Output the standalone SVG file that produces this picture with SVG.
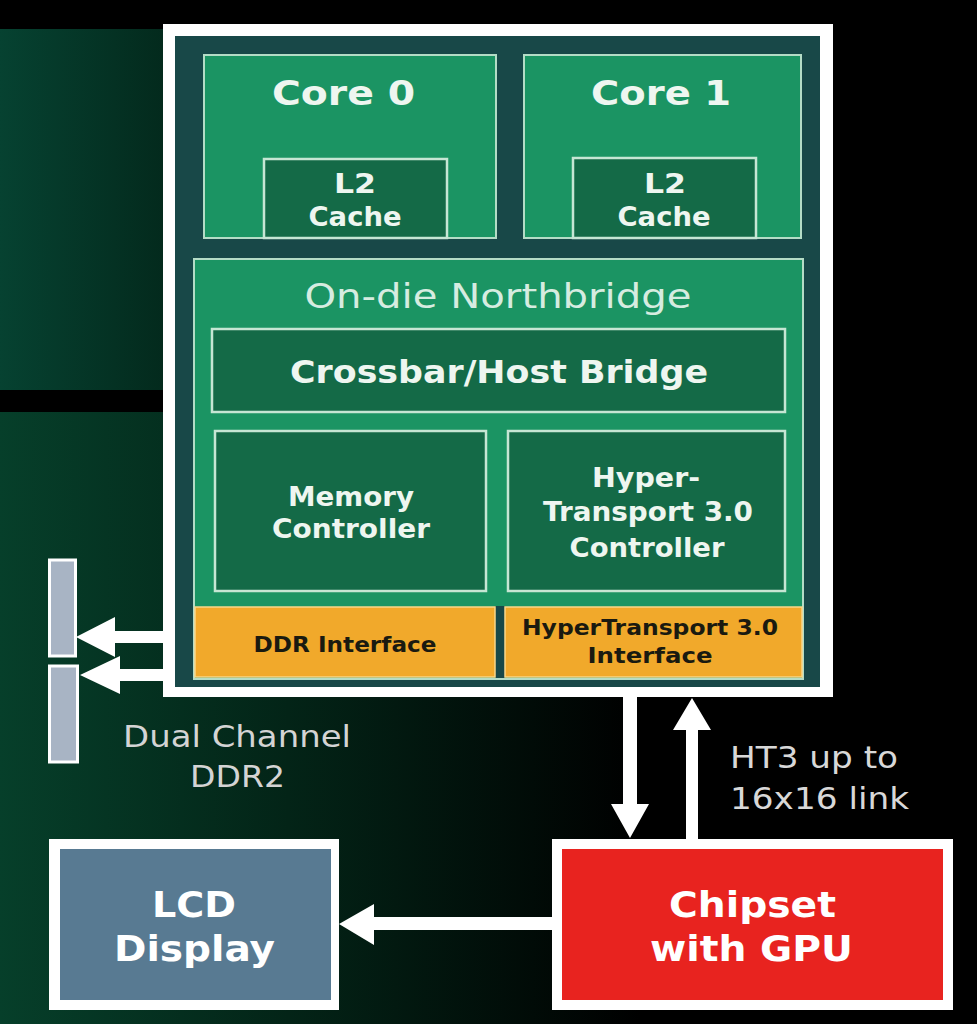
<svg xmlns="http://www.w3.org/2000/svg" width="977" height="1024" viewBox="0 0 977 1024">
  <defs>
    <linearGradient id="bgTop" x1="0" y1="0" x2="1" y2="0">
      <stop offset="0" stop-color="#064231"/>
      <stop offset="1" stop-color="#03291c"/>
    </linearGradient>
    <linearGradient id="bgBottom" gradientUnits="userSpaceOnUse" x1="0" y1="0" x2="640" y2="0">
      <stop offset="0" stop-color="#063f2a"/>
      <stop offset="0.45" stop-color="#032417"/>
      <stop offset="1" stop-color="#000000"/>
    </linearGradient>
    <style>
      .lbl { font-family: "DejaVu Sans", Verdana, sans-serif; font-weight: bold; fill: #eef6f0; text-anchor: middle; }
      .thin { font-family: "DejaVu Sans", Verdana, sans-serif; font-weight: normal; }
      .dark { font-family: "DejaVu Sans", Verdana, sans-serif; font-weight: bold; fill: #1a1a10; text-anchor: middle; }
      .core { fill: #1b9463; stroke: #b4dcc6; stroke-width: 2; }
      .block { fill: #146a47; stroke: #c6e6d4; stroke-width: 2.5; }
      .iface { fill: #f1a92b; stroke: #f9d68a; stroke-width: 1.5; }
      .arrow { fill: #ffffff; }
    </style>
  </defs>

  <!-- background -->
  <rect x="0" y="0" width="977" height="1024" fill="#000000"/>
  <rect x="0" y="29" width="170" height="361" fill="url(#bgTop)"/>
  <rect x="0" y="412" width="977" height="612" fill="url(#bgBottom)"/>

  <!-- connectors -->
  <g id="connectors">
    <polygon class="arrow" points="76,637 115,617 115,631 166,631 166,643 115,643 115,657"/>
    <polygon class="arrow" points="80,675 120,656 120,669 166,669 166,681 120,681 120,694"/>
    <polygon class="arrow" points="623,694 637,694 637,804 649,804 630,838 611,804 623,804"/>
    <polygon class="arrow" points="692,698 711,730 698,730 698,842 686,842 686,730 673,730"/>
    <polygon class="arrow" points="339,924 374,904 374,917 555,917 555,930 374,930 374,945"/>
  </g>

  <!-- processor die -->
  <g id="die">
    <rect x="163" y="24" width="670" height="673" fill="#ffffff"/>
    <rect x="175" y="36" width="645" height="651" fill="#184848"/>
  </g>

  <g id="core0">
    <rect class="core" x="204" y="55" width="292" height="183"/>
    <text class="lbl" x="343.5" y="105" font-size="34" textLength="143" lengthAdjust="spacingAndGlyphs">Core 0</text>
  </g>
  <g id="l2cache0">
    <rect class="block" x="264" y="159" width="183" height="79"/>
    <text class="lbl" x="355" y="193" font-size="27" textLength="42" lengthAdjust="spacingAndGlyphs">L2</text>
    <text class="lbl" x="355" y="226" font-size="27" textLength="93" lengthAdjust="spacingAndGlyphs">Cache</text>
  </g>

  <g id="core1">
    <rect class="core" x="524" y="55" width="277" height="183"/>
    <text class="lbl" x="661" y="105" font-size="34" textLength="140" lengthAdjust="spacingAndGlyphs">Core 1</text>
  </g>
  <g id="l2cache1">
    <rect class="block" x="573" y="158" width="183" height="80"/>
    <text class="lbl" x="665" y="193" font-size="27" textLength="42" lengthAdjust="spacingAndGlyphs">L2</text>
    <text class="lbl" x="664" y="226" font-size="27" textLength="93" lengthAdjust="spacingAndGlyphs">Cache</text>
  </g>

  <g id="northbridge">
    <rect class="core" x="194" y="259" width="609" height="420"/>
    <text class="lbl thin" x="498" y="308" font-size="34" fill="#d6ece0" style="fill:#d6ece0" textLength="387" lengthAdjust="spacingAndGlyphs">On-die Northbridge</text>
  </g>

  <g id="crossbar">
    <rect class="block" x="212" y="329" width="573" height="83"/>
    <text class="lbl" x="499" y="383" font-size="32" textLength="418" lengthAdjust="spacingAndGlyphs">Crossbar/Host Bridge</text>
  </g>

  <g id="memory-controller">
    <rect class="block" x="215" y="431" width="271" height="160"/>
    <text class="lbl" x="351" y="506" font-size="27" textLength="126" lengthAdjust="spacingAndGlyphs">Memory</text>
    <text class="lbl" x="351" y="538" font-size="27" textLength="158" lengthAdjust="spacingAndGlyphs">Controller</text>
  </g>

  <g id="ht-controller">
    <rect class="block" x="508" y="431" width="277" height="160"/>
    <text class="lbl" x="646" y="487" font-size="27" textLength="108" lengthAdjust="spacingAndGlyphs">Hyper-</text>
    <text class="lbl" x="648" y="521" font-size="27" textLength="210" lengthAdjust="spacingAndGlyphs">Transport 3.0</text>
    <text class="lbl" x="647" y="557" font-size="27" textLength="155" lengthAdjust="spacingAndGlyphs">Controller</text>
  </g>

  <g id="ddr-interface">
    <rect x="495" y="606" width="10" height="72" fill="#184848"/>
    <rect class="iface" x="195" y="607" width="300" height="70"/>
    <text class="dark" x="345" y="652" font-size="22" textLength="183" lengthAdjust="spacingAndGlyphs">DDR Interface</text>
  </g>

  <g id="ht-interface">
    <rect class="iface" x="505" y="607" width="297" height="70"/>
    <text class="dark" x="650" y="635" font-size="21" textLength="256" lengthAdjust="spacingAndGlyphs">HyperTransport 3.0</text>
    <text class="dark" x="650" y="663" font-size="21" textLength="125" lengthAdjust="spacingAndGlyphs">Interface</text>
  </g>

  <g id="memory-dimms">
    <rect x="49.5" y="560" width="26" height="96" fill="#a8b4c4" stroke="#ffffff" stroke-width="3"/>
    <rect x="49.5" y="666" width="28" height="96" fill="#a8b4c4" stroke="#ffffff" stroke-width="3"/>
    <text class="thin" x="237" y="747" font-size="30" fill="#d4d4d4" text-anchor="middle" textLength="228" lengthAdjust="spacingAndGlyphs">Dual Channel</text>
    <text class="thin" x="237.5" y="787" font-size="30" fill="#d4d4d4" text-anchor="middle" textLength="95" lengthAdjust="spacingAndGlyphs">DDR2</text>
  </g>

  <g id="ht-link-label">
    <text class="thin" x="730" y="768" font-size="30" fill="#d8d8d8" textLength="168" lengthAdjust="spacingAndGlyphs">HT3 up to</text>
    <text class="thin" x="730" y="809" font-size="30" fill="#d8d8d8" textLength="179" lengthAdjust="spacingAndGlyphs">16x16 link</text>
  </g>

  <g id="lcd-display">
    <rect x="49" y="839" width="290" height="171" fill="#ffffff"/>
    <rect x="60" y="849" width="271" height="151" fill="#587a92"/>
    <text class="lbl" x="194" y="917" font-size="36" style="fill:#ffffff" textLength="84" lengthAdjust="spacingAndGlyphs">LCD</text>
    <text class="lbl" x="194.5" y="961" font-size="36" style="fill:#ffffff" textLength="161" lengthAdjust="spacingAndGlyphs">Display</text>
  </g>

  <g id="chipset">
    <rect x="552" y="839" width="401" height="171" fill="#ffffff"/>
    <rect x="562" y="849" width="381" height="151" fill="#e8231f"/>
    <text class="lbl" x="752.5" y="917" font-size="36" style="fill:#ffffff" textLength="167" lengthAdjust="spacingAndGlyphs">Chipset</text>
    <text class="lbl" x="751.5" y="961" font-size="36" style="fill:#ffffff" textLength="203" lengthAdjust="spacingAndGlyphs">with GPU</text>
  </g>
</svg>
